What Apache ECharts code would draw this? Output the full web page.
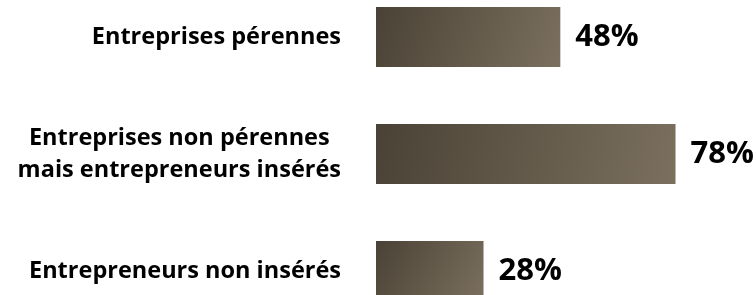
<!DOCTYPE html>
<html><head><meta charset="utf-8">
<script src="https://cdn.jsdelivr.net/npm/echarts@6/dist/echarts.min.js"></script>
<style>html,body{margin:0;padding:0;background:#fff}#c{width:756px;height:295px}</style>
</head><body><div id="c"></div>
<script>
const categories = ["Entreprises pérennes", "Entreprises non pérennes\nmais entrepreneurs insérés", "Entrepreneurs non insérés"];
const values = [48, 78, 28];

const chart = echarts.init(document.getElementById('c'));
const labelFont = { fontFamily: 'Open Sans', fontWeight: 'bold', fontSize: 23.5, color: '#000', lineHeight: 32 };
chart.setOption({
  animation: false,
  grid: { left: 376, width: 384, top: -21.5, height: 351, outerBoundsMode: 'none', containLabel: false },
  xAxis: { type: 'value', min: 0, max: 100, show: false },
  yAxis: {
    type: 'category', data: categories, inverse: true,
    axisLine: { show: false }, axisTick: { show: false },
    axisLabel: Object.assign({
      margin: 35, align: 'right',
      formatter: v => v.split('\n').map(s => '{c|' + s + '}').join('\n'),
      rich: { c: Object.assign({ align: 'center' }, labelFont) }
    }, labelFont)
  },
  series: [{
    type: 'bar', data: values, barWidth: 60,
    itemStyle: {
      color: new echarts.graphic.LinearGradient(0, 0, 1, 1, [
        { offset: 0, color: '#4a4236' },
        { offset: 1, color: '#7b705e' }
      ])
    },
    label: { show: true, position: 'right', distance: 15, formatter: '{c}%', fontFamily: 'Open Sans', fontWeight: 'bold', fontSize: 31, color: '#000' }
  }]
});
</script></body></html>
